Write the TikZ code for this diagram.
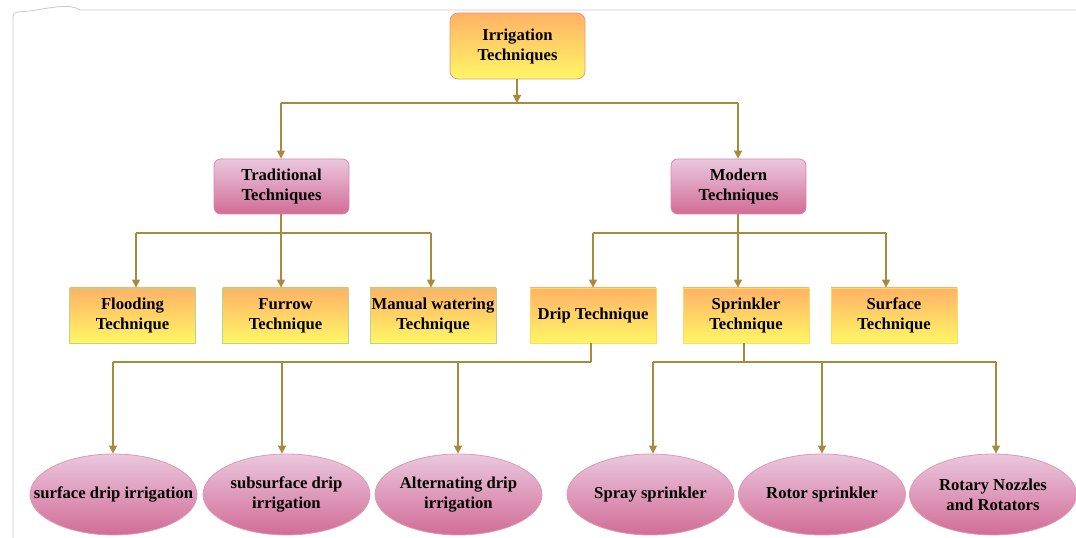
\documentclass[tikz,border=0pt]{standalone}
\usepackage{fontspec}
\setmainfont{Liberation Serif}
\usetikzlibrary{arrows.meta,shapes.geometric}
\definecolor{linec}{RGB}{168,138,62}
\definecolor{orTop}{RGB}{255,178,102}
\definecolor{orBot}{RGB}{255,246,102}
\definecolor{pkTop}{RGB}{234,200,222}
\definecolor{pkBot}{RGB}{210,108,150}
\definecolor{frame}{RGB}{200,200,200}
\tikzset{
  txt/.style={font=\fontsize{12.5}{15}\selectfont\bfseries, align=center, text=black},
  orbox/.style={txt, draw=orBot!60!orTop, line width=0.6pt, top color=orTop, bottom color=orBot, inner sep=0pt},
  greenbox/.style={orbox, draw={rgb,255:red,180;green,215;blue,140}},
  pkbox/.style={txt, draw=pkBot!80!white, line width=0.6pt, top color=pkTop, bottom color=pkBot, rounded corners=5pt, inner sep=0pt, minimum width=101.25pt, minimum height=41.25pt},
  ell/.style={txt, ellipse, draw=pkBot!70!white, line width=0.6pt, top color=pkTop, bottom color=pkBot, inner sep=0pt, minimum width=125.25pt, minimum height=60.75pt},
  conn/.style={draw=linec, line width=1.1pt, -{Triangle[width=6pt,length=6pt]}},
  link/.style={draw=linec, line width=1.1pt}
}
\begin{document}
\begin{tikzpicture}[x=0.75pt,y=-0.75pt]
\useasboundingbox (0,0) rectangle (1076,538);
% faint frame
\draw[frame, line width=0.6pt] (13,538) -- (13,17) .. controls (12,11) and (20,12) .. (30,11) .. controls (50,8) and (70,3) .. (80,10) -- (1076,10);
% nodes
\node[orbox, rounded corners=6pt, draw={rgb,255:red,235;green,150;blue,130}, minimum width=101.25pt, minimum height=49.5pt] (root) at (517.5,46) {Irrigation\\Techniques};
\node[pkbox] (trad) at (281.5,186.5) {Traditional\\Techniques};
\node[pkbox] (mod) at (738.5,186.5) {Modern\\Techniques};
\node[greenbox, minimum width=94.5pt, minimum height=41.25pt] (flood) at (132.5,315.5) {Flooding\\Technique};
\node[greenbox, minimum width=94.5pt, minimum height=41.25pt] (furrow) at (285.5,315.5) {Furrow\\Technique};
\node[greenbox, minimum width=94.5pt, minimum height=41.25pt] (manual) at (433,315.5) {Manual watering\\Technique};
\node[orbox, minimum width=94.5pt, minimum height=41.25pt] (drip) at (593,315.5) {Drip Technique};
\node[orbox, minimum width=94.5pt, minimum height=41.25pt] (sprink) at (746,315.5) {Sprinkler\\Technique};
\node[orbox, minimum width=94.5pt, minimum height=41.25pt] (surf) at (894,315.5) {Surface\\Technique};
\node[ell] (e1) at (113.5,494.5) {\makebox[0pt]{surface drip irrigation}};
\node[ell] (e2) at (286.5,494.5) {subsurface drip\\irrigation};
\node[ell] (e3) at (458.5,494.5) {Alternating drip\\irrigation};
\node[ell] (e4) at (650.5,494.5) {Spray sprinkler};
\node[ell] (e5) at (822,494.5) {Rotor sprinkler};
\node[ell] (e6) at (993,494.5) {Rotary Nozzles\\and Rotators};
% junction coordinates
\coordinate (j0) at (517,103);
\coordinate (j1) at (281,233);
\coordinate (j2) at (738,233);
\coordinate (j3) at (591,362);
\coordinate (j4) at (744,362);
% connectors
\draw[conn] (root.south -| j0) -- (j0);
\draw[link] (281,103) -- (738,103);
\draw[conn] (281,103) -- (trad.north -| 281,0);
\draw[conn] (738,103) -- (mod.north -| 738,0);
\draw[link] (trad.south -| j1) -- (j1);
\draw[link] (136,233) -- (431,233);
\draw[conn] (136,233) -- (flood.north -| 136,0);
\draw[conn] (j1) -- (furrow.north -| j1);
\draw[conn] (431,233) -- (manual.north -| 431,0);
\draw[link] (mod.south -| j2) -- (j2);
\draw[link] (593,233) -- (886,233);
\draw[conn] (593,233) -- (drip.north -| 593,0);
\draw[conn] (j2) -- (sprink.north -| j2);
\draw[conn] (886,233) -- (surf.north -| 886,0);
\draw[link] (drip.south -| j3) -- (j3);
\draw[link] (113,362) -- (j3);
\draw[conn] (113,362) -- (e1.north -| 113,0);
\draw[conn] (282,362) -- (e2.north -| 282,0);
\draw[conn] (458,362) -- (e3.north -| 458,0);
\draw[link] (sprink.south -| j4) -- (j4);
\draw[link] (653,362) -- (996,362);
\draw[conn] (653,362) -- (e4.north -| 653,0);
\draw[conn] (822,362) -- (e5.north -| 822,0);
\draw[conn] (996,362) -- (e6.north -| 996,0);
\end{tikzpicture}
\end{document}
